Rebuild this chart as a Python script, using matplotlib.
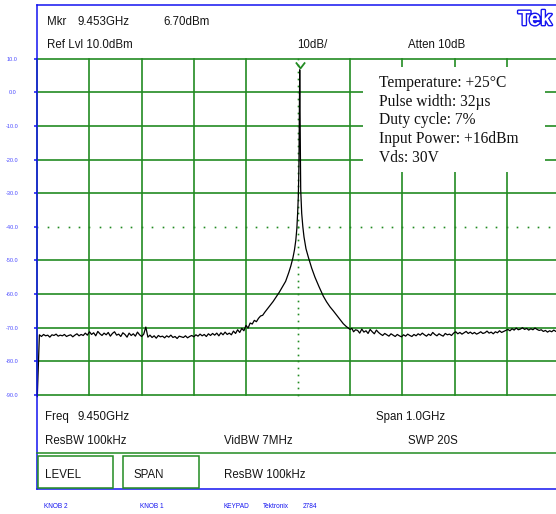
import numpy as np
import matplotlib
matplotlib.use("Agg")
import matplotlib.pyplot as plt
from matplotlib.patches import Rectangle
from matplotlib.lines import Line2D
from matplotlib.path import Path
import matplotlib.patheffects as pe

# ---------------- data ----------------
start_ghz = 8.950
stop_ghz = 9.950
center_ghz = 9.450
ref_level_dbm = 10.0
bottom_level_dbm = -90.0

sweep_step_ghz = 0.004

left_floor_start_ghz = 8.950
left_floor_dbm = [
    -90.5,
    -72.1, -72.6, -72.0, -72.4, -72.2, -72.8, -72.1, -72.3, -71.9, -72.5, -72.2, -72.4,
    -72.0, -72.6, -72.3, -72.1, -72.7, -72.2, -71.8, -72.4, -72.0, -72.3, -71.6, -72.2,
    -71.2, -72.0, -71.5, -72.4, -71.1, -71.8, -72.3, -71.6, -72.1, -71.4, -72.5, -71.7,
    -71.2, -72.2, -71.9, -72.6, -71.5, -72.0, -72.8, -71.6, -72.3, -71.8, -72.5, -71.3, -72.1,
    -72.6, -71.9, -69.8, -72.8, -72.2, -72.9, -72.4, -73.1, -72.3, -72.7, -72.5, -73.0,
    -72.4, -72.8, -72.2, -72.9, -72.6, -73.2, -72.5, -72.7, -72.9, -72.4, -73.0, -72.6,
    -72.3, -72.7, -72.1, -72.5, -71.9, -72.4, -72.0, -72.6, -71.8, -72.3, -71.7, -72.2,
    -71.6, -72.4, -71.5, -72.1, -71.3, -72.0,
]

skirt_freq_ghz = [
    9.318, 9.322, 9.326, 9.330, 9.334, 9.338, 9.342, 9.346, 9.350, 9.354,
    9.358, 9.362, 9.366, 9.370, 9.374, 9.378, 9.382, 9.386, 9.390, 9.396,
    9.402, 9.408, 9.414, 9.420, 9.426, 9.432, 9.436, 9.440, 9.443, 9.4455,
    9.4475, 9.4490, 9.4503, 9.4510, 9.4516, 9.4522, 9.4526, 9.4530, 9.4534, 9.4539,
    9.4545, 9.4549, 9.4568, 9.4590, 9.4612, 9.4650, 9.4695, 9.4760, 9.4823, 9.4900,
    9.4982, 9.5045, 9.5111, 9.5175, 9.5239, 9.5300, 9.5365, 9.5420, 9.5494, 9.5530,
    9.5562, 9.5600,
]
skirt_dbm = [
    -71.6, -72.1, -71.0, -71.7, -70.6, -71.4, -70.2, -70.9, -69.3, -70.1,
    -68.6, -68.9, -67.8, -68.2, -67.2, -66.5, -66.3, -65.4, -64.6, -63.4,
    -62.2, -60.8, -59.4, -57.8, -56.2, -53.6, -51.6, -49.2, -46.8, -44.0,
    -40.5, -36.0, -31.0, -26.0, -20.0, -10.0, 0.0, 6.7, 0.0, -12.0,
    -22.0, -29.0, -36.0, -40.0, -43.0, -46.5, -49.0, -52.3, -55.0, -57.8,
    -60.6, -62.3, -63.8, -65.0, -66.3, -67.5, -68.8, -69.6, -70.5, -70.2,
    -71.2, -70.6,
]

right_floor_start_ghz = 9.564
right_floor_dbm = [
    -70.8, -71.6, -70.4, -71.3, -70.9, -71.7, -70.5, -71.2, -71.8, -70.7, -71.4,
    -71.9, -72.3, -71.7, -72.1, -72.5, -71.8, -72.2, -72.6, -72.0, -72.4, -72.7, -72.1,
    -72.5, -71.9, -72.3, -72.6, -72.0, -72.4, -71.8, -72.2, -71.6, -72.1, -72.5, -71.9,
    -72.3, -71.4, -72.0, -72.4, -71.8, -72.2, -72.5, -71.7, -72.1, -71.9, -72.3,
    -71.6, -71.2, -71.8, -71.4, -71.9, -71.5, -71.1, -71.7, -71.3, -71.8, -71.4, -71.9,
    -71.6, -71.2, -71.7, -71.5, -71.0, -71.6, -71.3, -71.8, -71.2, -71.5, -70.9, -71.4,
    -71.1, -70.8,
    -70.5, -70.9, -70.3, -70.7, -70.1, -70.6, -70.4, -70.0, -70.5, -70.2, -70.7, -70.3,
    -70.6, -70.1, -70.5, -70.8,
    -70.6, -71.1, -70.8, -71.3, -70.9, -71.2, -70.7, -71.1, -71.0,
]

marker_ghz = 9.453
marker_dbm = 6.70

level_ticks_dbm = [10, 0, -10, -20, -30, -40, -50, -60, -70, -80, -90]
level_tick_labels = ["10.0", "0.0", "-10.0", "-20.0", "-30.0", "-40.0",
                     "-50.0", "-60.0", "-70.0", "-80.0", "-90.0"]

info_lines = ["Temperature: +25\u00b0C", "Pulse width: 32\u00b5s", "Duty cycle: 7%",
              "Input Power: +16dBm", "Vds: 30V"]

# ---------------- figure ----------------
W, H = 556, 514
fig = plt.figure(figsize=(W / 100, H / 100), dpi=100)
fig.patch.set_facecolor("white")


def fx(x):
    return x / W


def fy(y):
    return 1 - y / H


GREEN = "#228b22"
BLUE = "#1414f0"
LBLUE = "#4a4aff"
TXT = "#151515"
SANS = "Liberation Sans"
SERIF = "Liberation Serif"

gl, gt, gr, gb = 37.3, 58.7, 559.0, 395.0
ax = fig.add_axes([fx(gl), fy(gb), (gr - gl) / W, (gb - gt) / H])
ax.set_xlim(start_ghz, stop_ghz)
ax.set_ylim(bottom_level_dbm, ref_level_dbm)
ax.set_facecolor("none")
for s in ax.spines.values():
    s.set_visible(False)
ax.set_xticks([])

# grid
div_freqs = np.linspace(start_ghz, stop_ghz, 11)
for f in div_freqs:
    if abs(f - center_ghz) < 1e-9:
        continue
    ax.axvline(f, color=GREEN, lw=1.2, zorder=1, clip_on=False)
for lv in level_ticks_dbm:
    if lv == -40:
        continue
    ax.axhline(lv, color=GREEN, lw=1.2, zorder=1, clip_on=False)

minor_f = np.linspace(start_ghz, stop_ghz, 51)
minor_l = np.linspace(bottom_level_dbm, ref_level_dbm, 51)
ax.plot(minor_f, np.full_like(minor_f, -40.0), ls="none", marker="s", ms=1.2,
        mfc=GREEN, mec="none", zorder=1)
ax.plot(np.full_like(minor_l, center_ghz), minor_l, ls="none", marker="s", ms=1.2,
        mfc=GREEN, mec="none", zorder=1, clip_on=False)

# white box for annotation
ax.add_patch(Rectangle((fx(363), fy(172)), (545 - 363) / W, (172 - 67) / H,
                       transform=fig.transFigure, facecolor="white",
                       edgecolor="none", zorder=2))

# trace
left_freq = left_floor_start_ghz + sweep_step_ghz * np.arange(len(left_floor_dbm))
right_freq = right_floor_start_ghz + sweep_step_ghz * np.arange(len(right_floor_dbm))
freq = np.concatenate([left_freq, np.array(skirt_freq_ghz), right_freq])
level = np.concatenate([np.array(left_floor_dbm), np.array(skirt_dbm),
                        np.array(right_floor_dbm)])
ax.plot(freq, level, color="black", lw=0.9, zorder=3, clip_on=False)

# marker "V"
vpath = Path([(-0.57, 1.0), (0.0, 0.26), (0.57, 1.0)],
             [Path.MOVETO, Path.LINETO, Path.LINETO])
ax.plot([marker_ghz], [marker_dbm], ls="none", marker=vpath, ms=11.6,
        mfc="none", mec=GREEN, mew=1.3, zorder=4, clip_on=False)

# level ticks and labels
ax.set_yticks(level_ticks_dbm)
ax.set_yticklabels(level_tick_labels)
ax.tick_params(axis="y", direction="out", length=2.3, width=1.1, color=BLUE,
               labelsize=4, labelcolor=LBLUE, pad=15.6)
for t in ax.get_yticklabels():
    t.set_ha("center")
    t.set_fontfamily(SANS)

# frame lines
def fline(x0, y0, x1, y1, color, lw):
    fig.add_artist(Line2D([fx(x0), fx(x1)], [fy(y0), fy(y1)],
                          transform=fig.transFigure, color=color, lw=lw, zorder=5))

fline(37.3, 5.3, 557, 5.3, BLUE, 1.1)
fline(37.3, 5.3, 37.3, 489.0, BLUE, 1.1)
fline(37.3, 489.0, 557, 489.0, BLUE, 1.1)
fline(37.3, 452.7, 557, 452.7, GREEN, 1.1)

for (x0, x1) in [(37.8, 113.3), (123.0, 199.3)]:
    fig.add_artist(Rectangle((fx(x0), fy(487.7)), (x1 - x0) / W, (487.7 - 455.7) / H,
                             transform=fig.transFigure, facecolor="none",
                             edgecolor=GREEN, lw=1.1, zorder=5))

# texts
def ftxt(x, yb, s, size=8.3, family=SANS, color=TXT, **kw):
    fig.text(fx(x), fy(yb), s, fontsize=size, family=family, color=color,
             ha="left", va="baseline", **kw)

ftxt(47.3, 25.2, "Mkr")
ftxt(77.3, 25.2, "9.453GHz")
ftxt(163.0, 25.2, "6.70dBm")
ftxt(47.3, 48.5, "Ref Lvl 10.0dBm")
ftxt(297.0, 48.5, "10dB/")
ftxt(408.0, 48.5, "Atten 10dB")

ftxt(44.7, 420.0, "Freq")
ftxt(77.3, 420.0, "9.450GHz")
ftxt(376.0, 420.0, "Span 1.0GHz")
ftxt(44.7, 444.2, "ResBW 100kHz")
ftxt(223.7, 444.2, "VidBW 7MHz")
ftxt(408.0, 444.2, "SWP 20S")

ftxt(45.0, 477.5, "LEVEL")
ftxt(133.0, 477.5, "SPAN")
ftxt(223.7, 477.5, "ResBW 100kHz")

for x, s in [(44.0, "KNOB 2"), (140.0, "KNOB 1"), (223.3, "KEYPAD"),
             (263.3, "Tektronix"), (302.7, "2784")]:
    ftxt(x, 508.4, s, size=4.7, color=BLUE)

for i, s in enumerate(info_lines):
    ftxt(379.0, 87.3 + 18.6 * i, s, size=11.2, family=SERIF, color="#111111")

fig.text(fx(518.0), fy(25.0), "Tek", fontsize=14.8, family=SANS, fontweight="bold",
         color="white", ha="left", va="baseline",
         path_effects=[pe.withStroke(linewidth=2.0, foreground=BLUE)])

fig.savefig("out.png", dpi=100, facecolor="white")
